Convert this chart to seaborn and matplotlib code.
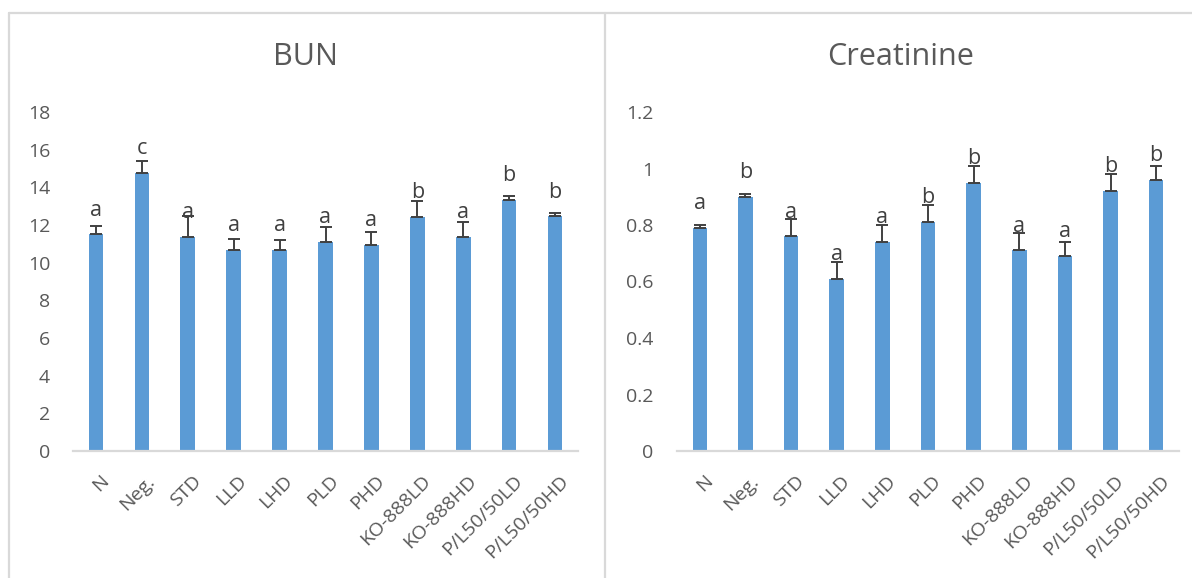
import matplotlib
matplotlib.use("Agg")
import matplotlib.pyplot as plt
import matplotlib.transforms as mtransforms
import seaborn as sns
import pandas as pd

# Treatment groups
groups = ["N", "Neg.", "STD", "LLD", "LHD", "PLD", "PHD",
          "KO-888LD", "KO-888HD", "P/L50/50LD", "P/L50/50HD"]

# BUN means, SD and significance letters
bun_mean = [11.5, 14.75, 11.38, 10.66, 10.66, 11.1, 10.94, 12.43, 11.38, 13.33, 12.46]
bun_sd = [0.45, 0.64, 1.1, 0.62, 0.53, 0.82, 0.71, 0.85, 0.8, 0.23, 0.2]
bun_sig = ["a", "c", "a", "a", "a", "a", "a", "b", "a", "b", "b"]

# Creatinine means, SD and significance letters
cre_mean = [0.79, 0.90, 0.76, 0.61, 0.74, 0.81, 0.95, 0.71, 0.69, 0.92, 0.96]
cre_sd = [0.01, 0.011, 0.06, 0.06, 0.06, 0.06, 0.058, 0.06, 0.05, 0.06, 0.05]
cre_sig = ["a", "b", "a", "a", "a", "b", "b", "a", "a", "b", "b"]

bun_ticks = [0, 2, 4, 6, 8, 10, 12, 14, 16, 18]
cre_ticks = [0, 0.2, 0.4, 0.6, 0.8, 1.0, 1.2]
cre_ticklabels = ["0", "0.2", "0.4", "0.6", "0.8", "1", "1.2"]

BAR = "#5B9BD5"
TEXT = "#595959"
LINE = "#D9D9D9"

sns.set_theme(style="white")
plt.rcParams["font.family"] = ["Open Sans", "DejaVu Sans"]

W, H = 1192, 578
fig = plt.figure(figsize=(W / 100, H / 100), dpi=100)

# chart-area frames
top_y = 1 - 13 / H
for xs, ys in [([8.5 / W, 1.0], [top_y, top_y]),
               ([8.5 / W, 8.5 / W], [0, top_y]),
               ([605 / W, 605 / W], [0, top_y])]:
    fig.add_artist(plt.Line2D(xs, ys, color=LINE, lw=1.6,
                              transform=fig.transFigure))

bottom = (H - 451) / H
height = 339 / H
ax1 = fig.add_axes([73 / W, bottom, 505 / W, height])
ax2 = fig.add_axes([677 / W, bottom, 502 / W, height])


def draw(ax, means, sds, sig, ticks, ticklabels, ymax, title, cx, ypad):
    df = pd.DataFrame({"group": groups, "value": means})
    sns.barplot(data=df, x="group", y="value", color=BAR, width=0.32,
                saturation=1, errorbar=None, ax=ax, edgecolor="none")
    xs = list(range(len(groups)))
    ax.errorbar(xs, means, yerr=[[0] * len(sds), sds], fmt="none",
                ecolor="#404040", elinewidth=1.4, capsize=4.2, capthick=1.4)
    for x, m, s in zip(xs, means, sig):
        ax.annotate(s, (x, m), xytext=(0, 13.5), textcoords="offset points",
                    ha="center", va="baseline", fontsize=15.5, color="#404040")
    ax.set_xlim(-0.5, len(groups) - 0.5)
    ax.set_ylim(0, ymax)
    ax.set_yticks(ticks)
    ax.set_yticklabels(ticklabels)
    ax.set_xlabel("")
    ax.set_ylabel("")
    for sp in ["top", "right", "left"]:
        ax.spines[sp].set_visible(False)
    ax.spines["bottom"].set_color(LINE)
    ax.spines["bottom"].set_linewidth(1.6)
    ax.tick_params(axis="y", length=0, pad=ypad, labelsize=14, labelcolor=TEXT)
    ax.tick_params(axis="x", length=0, pad=15, labelsize=14, labelcolor=TEXT)
    shift = mtransforms.ScaledTranslation(4 / 100, 0, fig.dpi_scale_trans)
    for lab in ax.get_xticklabels():
        lab.set_rotation(45)
        lab.set_ha("right")
        lab.set_rotation_mode("anchor")
        lab.set_transform(lab.get_transform() + shift)
    fig.text(cx, 1 - 57 / H, title, ha="center", va="center",
             fontsize=22, color=TEXT)


draw(ax1, bun_mean, bun_sd, bun_sig, bun_ticks, [str(t) for t in bun_ticks],
     18, "BUN", 306 / W, 16.5)
draw(ax2, cre_mean, cre_sd, cre_sig, cre_ticks, cre_ticklabels,
     1.2, "Creatinine", 901 / W, 17)

fig.savefig("out.png", dpi=100)
